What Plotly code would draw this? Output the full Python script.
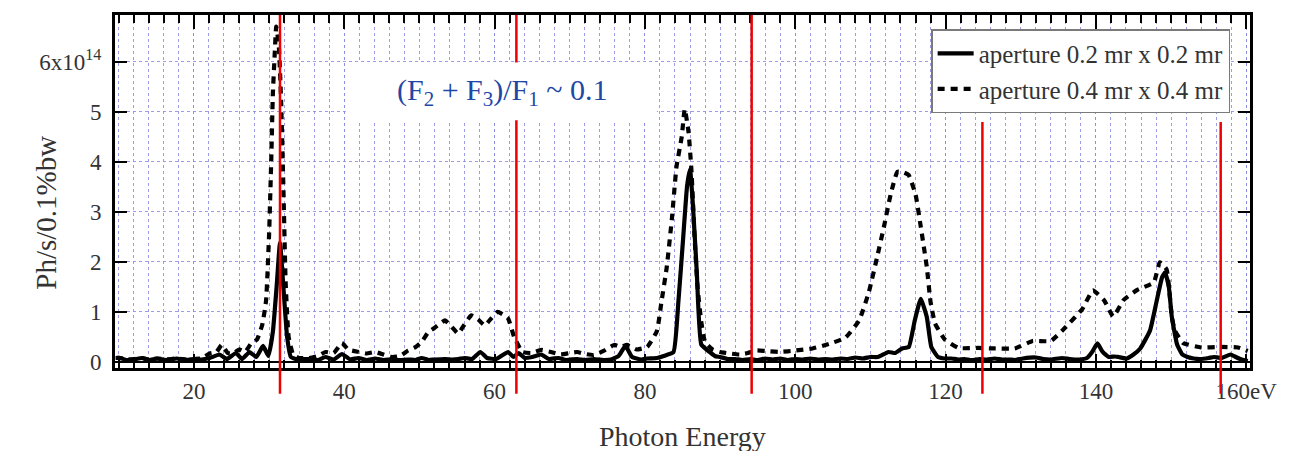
import plotly.graph_objects as go

# Photon energy spectra (eV) for two apertures, Ph/s/0.1%bw in units of 1e14
energy_small = [9.6, 10.2, 11.0, 12.0, 13.1, 14.0, 15.1, 16.3, 17.7, 19.0, 20.1, 21.0, 22.1, 23.4,
                24.4, 25.6, 26.4, 27.4, 28.3, 29.2, 29.9, 30.5, 31.0, 31.45, 31.9, 32.4, 32.9,
                33.8, 35.3, 36.5, 37.5, 38.6, 39.7, 40.8, 41.9, 43.0, 44.1, 45.2, 46.3, 47.4,
                48.5, 49.5, 50.3, 51.2, 52.0, 53.4, 54.4, 55.2, 56.0, 57.0, 58.1, 59.0, 60.2,
                61.8, 62.5, 63.2, 64.0, 65.0, 66.2, 67.2, 68.5, 69.5, 71.0, 72.0, 73.2, 74.5,
                75.5, 76.5, 77.4, 78.3, 79.5, 80.3, 81.6, 82.5, 83.8, 84.45, 85.1, 85.6, 86.0,
                86.4, 86.9, 87.5, 88.6, 89.3, 90.0, 91.0, 92.0, 93.0, 94.0, 95.0, 96.0, 97.0,
                98.0, 99.0, 100.0, 101.0, 102.0, 103.0, 104.0, 105.0, 106.0, 107.0, 108.0,
                109.0, 110.0, 111.0, 112.4, 113.3, 114.2, 115.1, 115.9, 116.7, 117.5, 118.1,
                119.0, 119.9, 120.8, 121.7, 122.5, 123.5, 124.5, 125.5, 126.5, 127.5, 128.5,
                129.2, 130.3, 132.0, 133.0, 134.0, 135.5, 136.5, 137.8, 138.8, 139.5, 140.2,
                140.9, 141.7, 142.5, 143.0, 144.1, 145.0, 145.9, 147.2, 148.1, 148.8, 149.2,
                149.7, 150.1, 150.8, 151.5, 152.2, 153.0, 153.9, 155.0, 155.7, 156.7, 157.9,
                158.6, 159.2, 160.2]
flux_small = [0.08, 0.08, 0.04, 0.05, 0.08, 0.04, 0.07, 0.04, 0.07, 0.04, 0.06, 0.05, 0.08, 0.15,
              0.06, 0.18, 0.06, 0.20, 0.10, 0.32, 0.12, 0.60, 1.50, 2.38, 1.50, 0.50, 0.10,
              0.05, 0.06, 0.04, 0.10, 0.05, 0.16, 0.05, 0.08, 0.04, 0.07, 0.04, 0.05, 0.04,
              0.05, 0.04, 0.08, 0.04, 0.05, 0.06, 0.05, 0.06, 0.08, 0.06, 0.20, 0.08, 0.06,
              0.20, 0.10, 0.18, 0.08, 0.10, 0.15, 0.06, 0.08, 0.04, 0.06, 0.04, 0.06, 0.04,
              0.05, 0.12, 0.32, 0.10, 0.05, 0.07, 0.08, 0.12, 0.20, 1.20, 2.50, 3.50, 3.85,
              3.10, 1.80, 0.35, 0.20, 0.12, 0.10, 0.06, 0.06, 0.04, 0.06, 0.04, 0.07, 0.05,
              0.07, 0.04, 0.06, 0.05, 0.07, 0.05, 0.06, 0.05, 0.07, 0.06, 0.09,
              0.07, 0.10, 0.10, 0.20, 0.18, 0.27, 0.30, 0.83, 1.26, 0.90, 0.30,
              0.10, 0.07, 0.07, 0.05, 0.06, 0.04, 0.06, 0.05, 0.07, 0.05, 0.05,
              0.04, 0.07, 0.09, 0.06, 0.05, 0.08, 0.06, 0.05, 0.08, 0.20, 0.37,
              0.20, 0.10, 0.11, 0.10, 0.07, 0.15, 0.27, 0.63, 1.23, 1.69, 1.79,
              1.50, 0.90, 0.35, 0.15, 0.10, 0.07, 0.06, 0.08, 0.10, 0.08, 0.15,
              0.10, 0.06, 0.02]

energy_large = [9.6, 10.2, 11.0, 12.0, 13.1, 14.0, 15.1, 16.3, 17.7, 19.0, 20.1, 21.0, 22.1, 23.0,
                23.7, 24.5, 25.2, 26.0, 26.8, 27.6, 28.4, 29.1, 29.6, 30.0, 30.3, 30.5, 30.7,
                30.95, 31.3, 31.6, 31.9, 32.2, 32.6, 33.2, 34.0, 35.3, 36.5, 37.5, 38.6, 39.7,
                40.5, 41.9, 43.0, 44.1, 45.2, 46.3, 47.4, 48.5, 49.5, 50.3, 51.2, 52.0, 53.4,
                54.3, 55.15, 56.0, 56.9, 57.8, 58.7, 59.6, 60.4, 61.1, 61.8, 62.6, 63.7, 65.0,
                66.2, 67.5, 68.8, 70.0, 71.0, 72.0, 73.2, 74.5, 75.9, 76.8, 77.6, 78.9, 80.3,
                81.6, 82.2, 82.9, 83.6, 84.2, 84.9, 85.3, 85.8, 86.2, 86.6, 87.0, 87.5, 88.0,
                89.0, 90.0, 91.3, 92.6, 93.7, 94.8, 96.0, 97.9, 100.1, 102.3, 104.5, 106.7,
                108.5, 109.8, 110.9, 111.8, 112.7, 113.6, 114.5, 115.1, 116.0, 116.7, 117.5,
                118.0, 118.6, 119.9, 121.7, 124.3, 126.5, 129.2, 131.6, 134.0, 136.0, 138.2,
                139.6, 141.1, 142.3, 143.7, 145.5, 147.7, 148.5, 149.4, 150.1, 150.5, 151.6,
                154.0, 156.5, 158.9, 160.2]
flux_large = [0.08, 0.08, 0.05, 0.06, 0.08, 0.05, 0.07, 0.05, 0.07, 0.05, 0.06, 0.07, 0.17, 0.20,
              0.34, 0.18, 0.17, 0.25, 0.20, 0.37, 0.45, 0.75, 1.23, 2.55, 4.10, 5.35, 6.00,
              6.70, 6.30, 5.20, 3.50, 1.60, 0.50, 0.15, 0.08, 0.08, 0.12, 0.20, 0.18, 0.38,
              0.25, 0.20, 0.17, 0.20, 0.15, 0.10, 0.12, 0.23, 0.30, 0.40, 0.60, 0.68, 0.83,
              0.70, 0.57, 0.75, 0.93, 0.85, 0.73, 0.88, 1.00, 0.95, 0.87, 0.50, 0.20, 0.18,
              0.24, 0.20, 0.15, 0.18, 0.20, 0.16, 0.14, 0.22, 0.34, 0.30, 0.34, 0.25, 0.30,
              0.62, 1.20, 1.89, 2.88, 3.90, 4.50, 5.05, 4.60, 3.80, 2.50, 1.50, 0.80, 0.40,
              0.25, 0.20, 0.17, 0.15, 0.18, 0.23, 0.22, 0.20, 0.23, 0.27, 0.36, 0.49,
              0.83, 1.40, 2.10, 2.70, 3.35, 3.80, 3.78, 3.73, 3.35, 2.70, 1.90,
              1.20, 0.77, 0.45, 0.28, 0.28, 0.27, 0.27, 0.42, 0.42, 0.70, 1.06,
              1.43, 1.23, 0.91, 1.24, 1.44, 1.59, 1.99, 1.85, 0.90, 0.63, 0.38,
              0.29, 0.30, 0.29, 0.22]

# Harmonic positions marked with red lines (eV)
harmonic_energies = [31.45, 62.9, 94.2, 124.9, 156.6]

x_tick_vals = [20, 40, 60, 80, 100, 120, 140, 160]
x_tick_text = ["20", "40", "60", "80", "100", "120", "140", "160eV"]
y_tick_vals = [0, 1, 2, 3, 4, 5, 6]
y_tick_text = ["0", "1", "2", "3", "4", "5", "6x10<sup>14</sup>"]

SERIF = "Liberation Serif"
GRID = "rgba(140,140,225,0.85)"
TEXT = "#333333"

fig = go.Figure()
fig.add_trace(go.Scatter(
    x=energy_small, y=flux_small, mode="lines", name="aperture 0.2 mr x 0.2 mr",
    line=dict(color="black", width=4.2, shape="spline", smoothing=0.4),
))
fig.add_trace(go.Scatter(
    x=energy_large, y=flux_large, mode="lines", name="aperture 0.4 mr x 0.4 mr",
    line=dict(color="black", width=4.2, dash="7px,6px", shape="spline", smoothing=0.4),
))

# red harmonic markers reach below the axis; the first three span the full height,
# the others start below the legend
for i, e in enumerate(harmonic_energies):
    fig.add_shape(type="line", xref="x", yref="paper", x0=e, x1=e,
                  y0=-0.073, y1=1.0 if i < 3 else 0.697,
                  line=dict(color="#ee0000", width=2.5), layer="above")

# white label box with the flux ratio
fig.add_shape(type="rect", xref="x", yref="y", x0=40.2, x1=81.6, y0=4.83, y1=5.98,
              fillcolor="white", line=dict(width=0), layer="above")
fig.add_annotation(x=61.0, y=5.4, xref="x", yref="y", showarrow=False,
                   text="(F<sub>2</sub> + F<sub>3</sub>)/F<sub>1</sub> ~ 0.1",
                   font=dict(family=SERIF, size=30, color="#1f47a6"))

fig.add_annotation(xref="paper", yref="paper", x=0.5, y=0, yshift=-68, yanchor="middle",
                   showarrow=False, text="Photon Energy",
                   font=dict(family=SERIF, size=28, color=TEXT))
fig.add_annotation(xref="paper", yref="paper", x=0, xshift=-87, y=0.44, textangle=-90,
                   showarrow=False, text="Ph/s/0.1%bw",
                   font=dict(family=SERIF, size=29, color=TEXT))

fig.update_layout(
    width=1289, height=451,
    margin=dict(l=115, r=32, t=12, b=83),
    paper_bgcolor="white", plot_bgcolor="white",
    font=dict(family=SERIF, color=TEXT),
    showlegend=True,
    legend=dict(x=0.9825, xanchor="right", y=0.96, yanchor="top",
                bgcolor="white", bordercolor="#7a7a7a", borderwidth=1.5,
                font=dict(family=SERIF, size=25, color=TEXT),
                itemwidth=36, tracegroupgap=0),
    xaxis=dict(
        range=[9.5, 160.5], tickvals=x_tick_vals, ticktext=x_tick_text,
        ticks="inside", ticklen=14, tickwidth=2, tickcolor="black",
        showline=True, linecolor="black", linewidth=3, mirror="allticks",
        showgrid=True, gridcolor=GRID, griddash="dot", gridwidth=1,
        zeroline=False,
        tickfont=dict(family=SERIF, size=23, color=TEXT),
        minor=dict(dtick=2, ticks="inside", ticklen=8, tickwidth=1.5, tickcolor="black",
                   showgrid=True, gridcolor=GRID, griddash="dot", gridwidth=1),
    ),
    yaxis=dict(
        range=[-0.12, 6.93], tickvals=y_tick_vals, ticktext=y_tick_text,
        ticks="inside", ticklen=12, tickwidth=2, tickcolor="black",
        showline=True, linecolor="black", linewidth=3, mirror="allticks",
        showgrid=True, gridcolor=GRID, griddash="dot", gridwidth=1,
        zeroline=True, zerolinecolor="black", zerolinewidth=1.5,
        tickfont=dict(family=SERIF, size=23, color=TEXT),
        ticklabelstandoff=6,
    ),
)

fig.write_html("out.html")
